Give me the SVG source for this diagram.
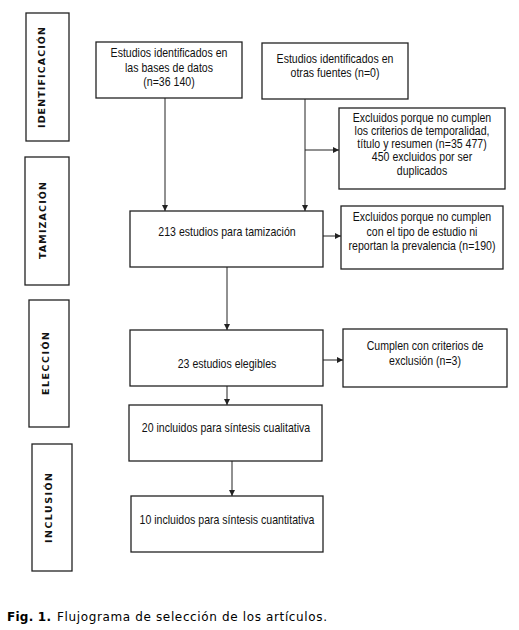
<svg xmlns="http://www.w3.org/2000/svg" width="519" height="630" viewBox="0 0 519 630">
<style>
.box{fill:#fff;stroke:#222;stroke-width:1.3}
.t{font-family:"Liberation Sans",Arial,sans-serif;font-size:12px;fill:#111;text-anchor:middle}
.s{font-family:"DejaVu Sans",Verdana,sans-serif;font-weight:bold;font-size:9.5px;fill:#111;text-anchor:middle}
.c{stroke:#222;stroke-width:1;fill:none}
.cap{font-family:"DejaVu Sans",Verdana,sans-serif;font-size:12px;fill:#000}
</style>
<defs>
<marker id="ah" markerWidth="6" markerHeight="6" refX="6" refY="3" orient="auto" markerUnits="userSpaceOnUse">
<path d="M0,0 L6,3 L0,6 z" fill="#222"/>
</marker>
</defs>
<rect width="519" height="630" fill="#fff"/>
<g id="stage-identificacion"><rect class="box" x="26" y="13" width="43" height="128"/><text class="s" transform="translate(44.5,77.5) rotate(-90)" textLength="101" lengthAdjust="spacing">IDENTIFICACIÓN</text></g>
<g id="stage-tamizacion"><rect class="box" x="25" y="157" width="44" height="128"/><text class="s" transform="translate(46,220.5) rotate(-90)" textLength="77" lengthAdjust="spacing">TAMIZACIÓN</text></g>
<g id="stage-eleccion"><rect class="box" x="29" y="300" width="40" height="127"/><text class="s" transform="translate(49,363.5) rotate(-90)" textLength="63" lengthAdjust="spacing">ELECCIÓN</text></g>
<g id="stage-inclusion"><rect class="box" x="32" y="444" width="40" height="127"/><text class="s" transform="translate(52,508) rotate(-90)" textLength="70" lengthAdjust="spacing">INCLUSIÓN</text></g>

<g id="connectors">
<line class="c" x1="165" y1="98" x2="165" y2="211" marker-end="url(#ah)"/>
<line class="c" x1="305" y1="99" x2="305" y2="211" marker-end="url(#ah)"/>
<line class="c" x1="305" y1="150" x2="339" y2="150" marker-end="url(#ah)"/>
<line class="c" x1="323" y1="236" x2="341" y2="236" marker-end="url(#ah)"/>
<line class="c" x1="227" y1="267" x2="227" y2="330" marker-end="url(#ah)"/>
<line class="c" x1="323" y1="360" x2="343" y2="360" marker-end="url(#ah)"/>
<line class="c" x1="227" y1="386" x2="227" y2="405" marker-end="url(#ah)"/>
<line class="c" x1="232" y1="461" x2="232" y2="496" marker-end="url(#ah)"/>
</g>

<g id="n-bases"><rect class="box" x="96" y="42" width="146" height="56"/>
<g transform="translate(169,0) scale(0.88,1)">
<text class="t" x="0" y="57">Estudios identificados en</text>
<text class="t" x="0" y="72">las bases de datos</text>
<text class="t" x="0" y="86">(n=36 140)</text></g></g>
<g id="n-otras"><rect class="box" x="262" y="43" width="146" height="56"/>
<g transform="translate(335,0) scale(0.88,1)">
<text class="t" x="0" y="63">Estudios identificados en</text>
<text class="t" x="0" y="77">otras fuentes (n=0)</text></g></g>
<g id="n-excl1"><rect class="box" x="339" y="108" width="166" height="81"/>
<g transform="translate(422,0) scale(0.88,1)">
<text class="t" x="0" y="122">Excluidos porque no cumplen</text>
<text class="t" x="0" y="135">los criterios de temporalidad,</text>
<text class="t" x="0" y="148">título y resumen (n=35 477)</text>
<text class="t" x="0" y="161">450 excluidos por ser</text>
<text class="t" x="0" y="175">duplicados</text></g></g>
<g id="n-tamizacion"><rect class="box" x="130" y="211" width="193" height="56"/>
<g transform="translate(227,0) scale(0.88,1)">
<text class="t" x="0" y="236">213 estudios para tamización</text></g></g>
<g id="n-excl2"><rect class="box" x="341" y="206" width="162" height="63"/>
<g transform="translate(422,0) scale(0.88,1)">
<text class="t" x="0" y="221">Excluidos porque no cumplen</text>
<text class="t" x="0" y="236">con el tipo de estudio ni</text>
<text class="t" x="0" y="250">reportan la prevalencia (n=190)</text></g></g>
<g id="n-elegibles"><rect class="box" x="130" y="330" width="193" height="56"/>
<g transform="translate(227,0) scale(0.88,1)">
<text class="t" x="0" y="368">23 estudios elegibles</text></g></g>
<g id="n-excl3"><rect class="box" x="343" y="329" width="164" height="58"/>
<g transform="translate(425,0) scale(0.88,1)">
<text class="t" x="0" y="350">Cumplen con criterios de</text>
<text class="t" x="0" y="365">exclusión (n=3)</text></g></g>
<g id="n-cualitativa"><rect class="box" x="129" y="405" width="193" height="56"/>
<g transform="translate(226,0) scale(0.88,1)">
<text class="t" x="0" y="432">20 incluidos para síntesis cualitativa</text></g></g>
<g id="n-cuantitativa"><rect class="box" x="131" y="496" width="192" height="56"/>
<g transform="translate(227,0) scale(0.88,1)">
<text class="t" x="0" y="524">10 incluidos para síntesis cuantitativa</text></g></g>

<text class="cap" x="7" y="621" font-weight="bold" textLength="44" lengthAdjust="spacing">Fig. 1.</text>
<text class="cap" x="57" y="621" textLength="270" lengthAdjust="spacing">Flujograma de selección de los artículos.</text>
</svg>
